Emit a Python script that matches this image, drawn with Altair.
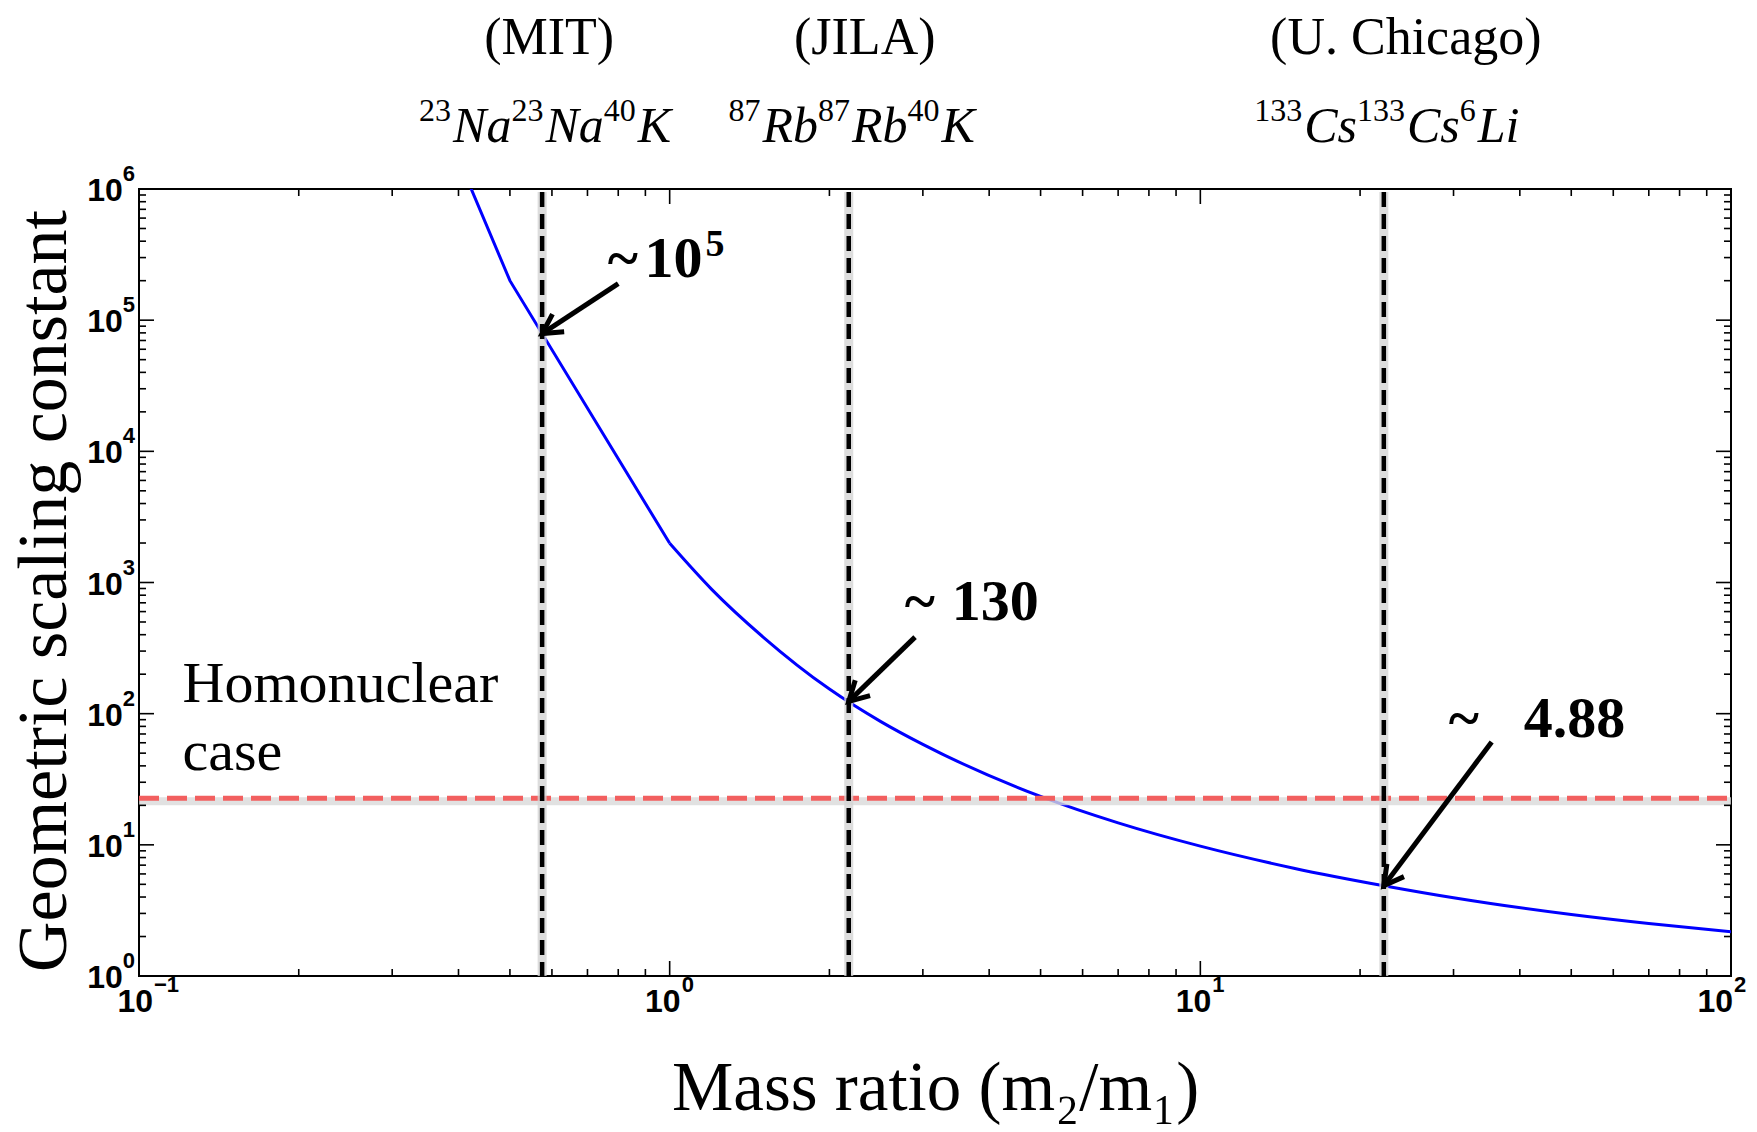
import math
import altair as alt
import pandas as pd

# ---------------- data ----------------
# sparse part of the curve (straight segments in log-log)
ratio_low = [0.4, 0.5, 1.0]
lambda_low = [1.7e6, 2.0e5, 1990.0]
# smooth part of the curve
ratio_high = [1.0, 1.2, 1.5, 2.0, 2.5, 3.0, 5.0, 7.0, 10.0, 15.0, 22.17, 30.0, 50.0, 70.0, 100.0]
lambda_high = [1990.0, 887.0, 384.0, 154.0, 87.0, 58.3, 23.4, 14.7, 9.77, 6.64, 4.88, 3.95, 2.94, 2.51, 2.17]

homonuclear_value = 22.7

exp_ratio = [0.575, 2.175, 22.17]
exp_group = ["(MIT)", "(JILA)", "(U. Chicago)"]
exp_isotopes = [
    [("23", 1), ("Na", 0), ("23", 1), ("Na", 0), ("40", 1), ("K", 0)],
    [("87", 1), ("Rb", 0), ("87", 1), ("Rb", 0), ("40", 1), ("K", 0)],
    [("133", 1), ("Cs", 0), ("133", 1), ("Cs", 0), ("6", 1), ("Li", 0)],
]

ann_num = ["10", "130", "4.88"]
ann_sup = ["5", "", ""]
ann_tilde_x = [0.764, 2.772, 29.37]
ann_num_x = [0.897, 3.40, 40.67]
ann_y = [2.13e5, 517.0, 66.3]

arrow_tail_x = [0.80, 2.90, 35.4]
arrow_tail_y = [1.9e5, 383.0, 60.8]
arrow_tip_x = [0.575, 2.175, 22.17]
arrow_tip_y = [7.9e4, 124.0, 4.88]

homo_lines = ["Homonuclear", "case"]
homo_x = [0.1208, 0.1208]
homo_y = [122.5, 37.2]

x_tick_values = [0.1, 1, 10, 100]
x_tick_exp = ["\u22121", "0", "1", "2"]
y_tick_values = [1, 10, 100, 1e3, 1e4, 1e5, 1e6]
y_tick_exp = ["0", "1", "2", "3", "4", "5", "6"]
x_minor = [k * 10.0 ** e for e in (-1, 0, 1) for k in range(2, 10)]
y_minor = [k * 10.0 ** e for e in range(0, 6) for k in range(2, 10)]

# ---------------- layout / style ----------------
W, H = 1592, 787
SERIF = "Liberation Serif"
SANS = "Liberation Sans"
LAB_SIZE, LAB_SUP = 32, 22
X_LABEL_EDGE = [14, 11, 11, 2]   # where the "10" of each x label ends, relative to its tick

xs = alt.Scale(type="log", domain=[0.1, 100], nice=False)
ys = alt.Scale(type="log", domain=[1, 1e6], nice=False)


def px(x):
    return W * (math.log10(x) + 1) / 3.0


def py(y):
    return H * (6 - math.log10(y)) / 6.0


XAXIS = alt.Axis(
    values=x_tick_values,
    labels=False,
    ticks=False,
    domain=False,
    grid=False,
    title="Mass ratio (m\u2082/m\u2081)",
    titleFont=SERIF,
    titleFontSize=69,
    titleFontWeight="normal",
    titleColor="black",
    titleY=133,
    titleBaseline="alphabetic",
)
YAXIS = alt.Axis(
    values=y_tick_values,
    labels=False,
    ticks=False,
    domain=False,
    grid=False,
    title="Geometric scaling constant",
    titleFont=SERIF,
    titleFontSize=70,
    titleFontWeight="normal",
    titleColor="black",
    titleX=-74,
    titleY=H / 2 + 8,
    titleBaseline="alphabetic",
)


def X(field):
    return alt.X(field, scale=xs, axis=XAXIS)


def Y(field):
    return alt.Y(field, scale=ys, axis=YAXIS)


layers = []

# curve
df_low = pd.DataFrame({"x": ratio_low, "y": lambda_low})
layers.append(
    alt.Chart(df_low)
    .mark_line(color="#0000ff", strokeWidth=3, clip=True)
    .encode(x=X("x:Q"), y=Y("y:Q"))
)
df_high = pd.DataFrame({"x": ratio_high, "y": lambda_high})
layers.append(
    alt.Chart(df_high)
    .mark_line(color="#0000ff", strokeWidth=3, clip=True, interpolate="monotone")
    .encode(x=X("x:Q"), y=Y("y:Q"))
)

# homonuclear line with soft shadow
df_h = pd.DataFrame({"y": [homonuclear_value]})
layers.append(
    alt.Chart(df_h)
    .mark_rule(color="#d9d9d9", strokeWidth=8, yOffset=3, opacity=0.8)
    .encode(y=Y("y:Q"), x=alt.value(0), x2=alt.value(W))
)
layers.append(
    alt.Chart(df_h)
    .mark_rule(color="#f25f5f", strokeWidth=5, strokeDash=[20, 8])
    .encode(y=Y("y:Q"), x=alt.value(0), x2=alt.value(W))
)

# vertical experiment lines with shadow
df_v = pd.DataFrame({"x": exp_ratio})
layers.append(
    alt.Chart(df_v)
    .mark_rule(color="#d4d4d4", strokeWidth=9, opacity=0.8)
    .encode(x=X("x:Q"), y=alt.value(3), y2=alt.value(H))
)
layers.append(
    alt.Chart(df_v)
    .mark_rule(color="black", strokeWidth=4.5, strokeDash=[15, 7])
    .encode(x=X("x:Q"), y=alt.value(3), y2=alt.value(H))
)

# ticks on all four sides, pointing inward
for vals, length in ((x_tick_values, 15), (x_minor, 7)):
    d = pd.DataFrame({"x": vals})
    for y0, y1 in ((H, H - length), (0, length)):
        layers.append(
            alt.Chart(d)
            .mark_rule(color="black", strokeWidth=1.6)
            .encode(x=X("x:Q"), y=alt.value(y0), y2=alt.value(y1))
        )
for vals, length in ((y_tick_values, 15), (y_minor, 7)):
    d = pd.DataFrame({"y": vals})
    for x0, x1 in ((0, length), (W, W - length)):
        layers.append(
            alt.Chart(d)
            .mark_rule(color="black", strokeWidth=1.6)
            .encode(y=Y("y:Q"), x=alt.value(x0), x2=alt.value(x1))
        )


# tick labels: "10" with a raised exponent
def sup_width(s):
    return sum(0.584 if c == "\u2212" else 0.556 for c in s) * LAB_SUP


for v, e, edge in zip(x_tick_values, x_tick_exp, X_LABEL_EDGE):
    d = pd.DataFrame({"x": [v], "t": ["10"], "s": [e]})
    layers.append(
        alt.Chart(d)
        .mark_text(font=SANS, fontWeight="bold", fontSize=LAB_SIZE, align="right",
                   baseline="middle", color="black", dx=edge)
        .encode(x=X("x:Q"), y=alt.value(H + 26), text="t:N")
    )
    layers.append(
        alt.Chart(d)
        .mark_text(font=SANS, fontWeight="bold", fontSize=LAB_SUP, align="left",
                   baseline="middle", color="black", dx=edge + 1)
        .encode(x=X("x:Q"), y=alt.value(H + 9), text="s:N")
    )

for v, e in zip(y_tick_values, y_tick_exp):
    ws = sup_width(e)
    d = pd.DataFrame({"y": [v], "t": ["10"], "s": [e]})
    layers.append(
        alt.Chart(d)
        .mark_text(font=SANS, fontWeight="bold", fontSize=LAB_SIZE, align="right",
                   baseline="middle", color="black", dy=2)
        .encode(y=Y("y:Q"), x=alt.value(-4 - ws), text="t:N")
    )
    layers.append(
        alt.Chart(d)
        .mark_text(font=SANS, fontWeight="bold", fontSize=LAB_SUP, align="left",
                   baseline="middle", color="black", dy=-15)
        .encode(y=Y("y:Q"), x=alt.value(-4 - ws), text="s:N")
    )

# arrows
df_arrow = pd.DataFrame(
    {"x": arrow_tail_x, "y": arrow_tail_y, "x2": arrow_tip_x, "y2": arrow_tip_y}
)
df_arrow["ang"] = [
    (math.degrees(math.atan2(px(b) - px(a), -(py(d) - py(c)))) + 360) % 360
    for a, b, c, d in zip(arrow_tail_x, arrow_tip_x, arrow_tail_y, arrow_tip_y)
]
layers.append(
    alt.Chart(df_arrow)
    .mark_rule(color="black", strokeWidth=5)
    .encode(x=X("x:Q"), y=Y("y:Q"), x2="x2:Q", y2="y2:Q")
)
layers.append(
    alt.Chart(df_arrow)
    .mark_point(
        shape="M -0.55 1 L 0 0 L 0.55 1",
        filled=False,
        stroke="black",
        strokeWidth=5,
        size=1500,
        opacity=1,
        strokeJoin="miter",
    )
    .encode(x=X("x2:Q"), y=Y("y2:Q"), angle=alt.Angle("ang:Q", scale=None))
)

# annotation values: tilde, number, optional superscript
df_tilde = pd.DataFrame({"x": ann_tilde_x, "y": ann_y, "t": ["~"] * len(ann_y)})
layers.append(
    alt.Chart(df_tilde)
    .mark_text(font=SERIF, fontSize=58, fontWeight="bold", align="left", baseline="alphabetic", color="black")
    .encode(x=X("x:Q"), y=Y("y:Q"), text="t:N")
)
df_num = pd.DataFrame({"x": ann_num_x, "y": ann_y, "t": ann_num, "s": ann_sup})
layers.append(
    alt.Chart(df_num)
    .mark_text(font=SERIF, fontSize=58, fontWeight="bold", align="left", baseline="alphabetic", color="black")
    .encode(x=X("x:Q"), y=Y("y:Q"), text="t:N")
)
layers.append(
    alt.Chart(df_num)
    .mark_text(font=SERIF, fontSize=38, fontWeight="bold", align="left", baseline="alphabetic",
               color="black", dx=61, dy=-21)
    .encode(x=X("x:Q"), y=Y("y:Q"), text="s:N")
)

# homonuclear label
df_homo = pd.DataFrame({"x": homo_x, "y": homo_y, "t": homo_lines})
layers.append(
    alt.Chart(df_homo)
    .mark_text(font=SERIF, fontSize=58, align="left", baseline="alphabetic", color="black")
    .encode(x=X("x:Q"), y=Y("y:Q"), text="t:N")
)

# group labels above the plot
group_dx = [7, 16, 22]
for xv, g, ddx in zip(exp_ratio, exp_group, group_dx):
    layers.append(
        alt.Chart(pd.DataFrame({"x": [xv], "t": [g]}))
        .mark_text(font=SERIF, fontSize=52, align="center", baseline="alphabetic", color="black", dx=ddx)
        .encode(x=X("x:Q"), y=alt.value(-135), text="t:N")
    )

# isotope labels built from pieces (superscript mass numbers, italic symbols)
ITALIC_W = {"N": 0.667, "a": 0.5, "R": 0.611, "b": 0.5, "K": 0.667, "C": 0.667,
            "s": 0.389, "L": 0.556, "i": 0.278}
F_MAIN, F_SUP, SUP_RAISE, GAP = 50, 32, 21, 2


def piece_width(text, sup):
    if sup:
        return len(text) * 0.5 * F_SUP + GAP
    return sum(ITALIC_W[c] for c in text) * F_MAIN


for xv, pieces in zip(exp_ratio, exp_isotopes):
    total = sum(piece_width(t, s) for t, s in pieces)
    cur = -total / 2.0 + 3
    for t, s in pieces:
        layers.append(
            alt.Chart(pd.DataFrame({"x": [xv], "t": [t]}))
            .mark_text(
                font=SERIF,
                fontSize=F_SUP if s else F_MAIN,
                fontStyle="normal" if s else "italic",
                align="left",
                baseline="alphabetic",
                color="black",
                dx=cur,
                dy=-SUP_RAISE if s else 0,
            )
            .encode(x=X("x:Q"), y=alt.value(-47), text="t:N")
        )
        cur += piece_width(t, s)

chart = (
    alt.layer(*layers)
    .properties(
        width=W,
        height=H,
        padding={"left": 139, "top": 189, "right": 26, "bottom": 156},
        autosize=alt.AutoSizeParams(type="none"),
        background="white",
    )
    .configure_view(stroke="black", strokeWidth=2)
)

chart.save("out.html", embed_options={"renderer": "svg", "actions": False})
